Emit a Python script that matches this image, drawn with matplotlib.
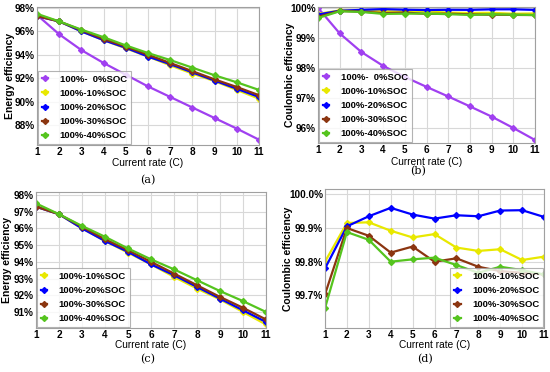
import numpy as np
import matplotlib
matplotlib.use("Agg")
import matplotlib.pyplot as plt
from matplotlib.ticker import FuncFormatter

plt.rcParams["font.family"] = ["Liberation Sans", "DejaVu Sans"]

# current rate (C)
rate = [1, 2, 3, 4, 5, 6, 7, 8, 9, 10, 11]

# energy efficiency (%)
ee_0 = [97.4, 95.75, 94.4, 93.3, 92.3, 91.3, 90.4, 89.5, 88.6, 87.7, 86.75]
ee_10 = [97.4, 96.85, 96.0, 95.25, 94.55, 93.85, 93.1, 92.4, 91.75, 91.0, 90.25]
ee_20 = [97.3, 96.85, 96.0, 95.25, 94.6, 93.85, 93.2, 92.5, 91.8, 91.1, 90.4]
ee_30 = [97.3, 96.85, 96.1, 95.35, 94.7, 94.0, 93.3, 92.6, 91.9, 91.25, 90.55]
ee_40 = [97.5, 96.85, 96.15, 95.5, 94.8, 94.15, 93.55, 92.9, 92.25, 91.65, 91.0]

# coulombic efficiency (%)
ce_0 = [100.0, 99.15, 98.53, 98.07, 97.7, 97.37, 97.05, 96.72, 96.38, 96.0, 95.6]
ce_10 = [99.80, 99.915, 99.917, 99.892, 99.872, 99.882, 99.842, 99.832, 99.837, 99.805, 99.815]
ce_20 = [99.78, 99.905, 99.935, 99.96, 99.94, 99.928, 99.938, 99.935, 99.952, 99.953, 99.933]
ce_30 = [99.703, 99.90, 99.877, 99.827, 99.845, 99.80, 99.81, 99.785, 99.772, 99.767, 99.762]
ce_40 = [99.662, 99.888, 99.865, 99.80, 99.807, 99.812, 99.79, 99.767, 99.785, 99.775, 99.762]

labels = ["100%-  0%SOC", "100%-10%SOC", "100%-20%SOC", "100%-30%SOC", "100%-40%SOC"]
colors = ["#a040f0", "#e8e800", "#0000ff", "#8b3510", "#55c41e"]

W, H = 550, 372
fig = plt.figure(figsize=(W / 100, H / 100), dpi=100)


def box(l, t, r, b):
    return [l / W, 1 - b / H, (r - l) / W, (b - t) / H]


def style(ax, ylim, yticks, fmt, ylabel, px, xl_y, yl_x):
    l, t, r, b = px
    ax.set_xlim(1, 11)
    ax.set_ylim(*ylim)
    ax.set_xticks(rate)
    ax.set_yticks(yticks)
    ax.yaxis.set_major_formatter(FuncFormatter(lambda v, p: fmt % v + "%"))
    ax.grid(True, color="#d8d8d8", lw=0.8)
    ax.set_axisbelow(True)
    for s in ax.spines.values():
        s.set_color("#a0a0a0")
        s.set_linewidth(0.8)
    ax.tick_params(length=0, labelsize=7.2, pad=1.5)
    for tl in ax.get_xticklabels() + ax.get_yticklabels():
        tl.set_fontweight("bold")
    ax.set_xlabel("Current rate (C)", fontsize=7.3)
    ax.xaxis.set_label_coords(0.5, -(xl_y - b) / (b - t))
    ax.xaxis.label.set_va("center")
    ax.set_ylabel(ylabel, fontsize=7.5, fontweight="bold")
    ax.yaxis.set_label_coords(-(l - yl_x) / (r - l), 0.5)
    ax.yaxis.label.set_va("center")


def draw(ax, series, idx):
    for y, i in zip(series, idx):
        ax.plot(rate, y, color=colors[i], lw=1.6, marker="D", ms=3,
                label=labels[i])


def legend(ax, loc):
    leg = ax.legend(loc=loc, prop={"size": 6.8, "weight": "bold"},
                    frameon=True, fancybox=False,
                    handlelength=0.7, handletextpad=1.2, borderpad=0.4,
                    labelspacing=0.55, borderaxespad=0.1)
    leg.get_frame().set_edgecolor("#a0a0a0")
    leg.get_frame().set_linewidth(0.8)


pa = (37, 7, 259, 145)
ax_a = fig.add_axes(box(*pa))
draw(ax_a, [ee_0, ee_10, ee_20, ee_30, ee_40], [0, 1, 2, 3, 4])
style(ax_a, (86.3, 98.08), [88, 90, 92, 94, 96, 98], "%d", "Energy efficiency",
      pa, 163, 10)
legend(ax_a, "lower left")

pb = (318, 7, 535, 143)
ax_b = fig.add_axes(box(*pb))
draw(ax_b, [ce_0, ce_10, ce_20, ce_30, ce_40], [0, 1, 2, 3, 4])
style(ax_b, (95.5, 100.03), [96, 97, 98, 99, 100], "%d", "Coulombic efficiency",
      pb, 162, 290)
legend(ax_b, "lower left")

pc = (36, 192, 266, 328)
ax_c = fig.add_axes(box(*pc))
draw(ax_c, [ee_10, ee_20, ee_30, ee_40], [1, 2, 3, 4])
style(ax_c, (90.04, 98.18), [91, 92, 93, 94, 95, 96, 97, 98], "%d", "Energy efficiency",
      pc, 345, 7)
legend(ax_c, "lower left")

pd_ = (325, 189, 544, 328)
ax_d = fig.add_axes(box(*pd_))
draw(ax_d, [ce_10, ce_20, ce_30, ce_40], [1, 2, 3, 4])
style(ax_d, (99.603, 100.016), [99.7, 99.8, 99.9, 100.0], "%.1f", "Coulombic efficiency",
      pd_, 345, 288)
legend(ax_d, "lower right")

for x, y, s in [(148, 180, "(a)"), (418, 171, "(b)"), (148, 359, "(c)"), (425, 359, "(d)")]:
    fig.text(x / W, 1 - y / H, s, ha="center", va="center", fontsize=8,
             family="DejaVu Serif")

fig.savefig("out.png", dpi=100)
